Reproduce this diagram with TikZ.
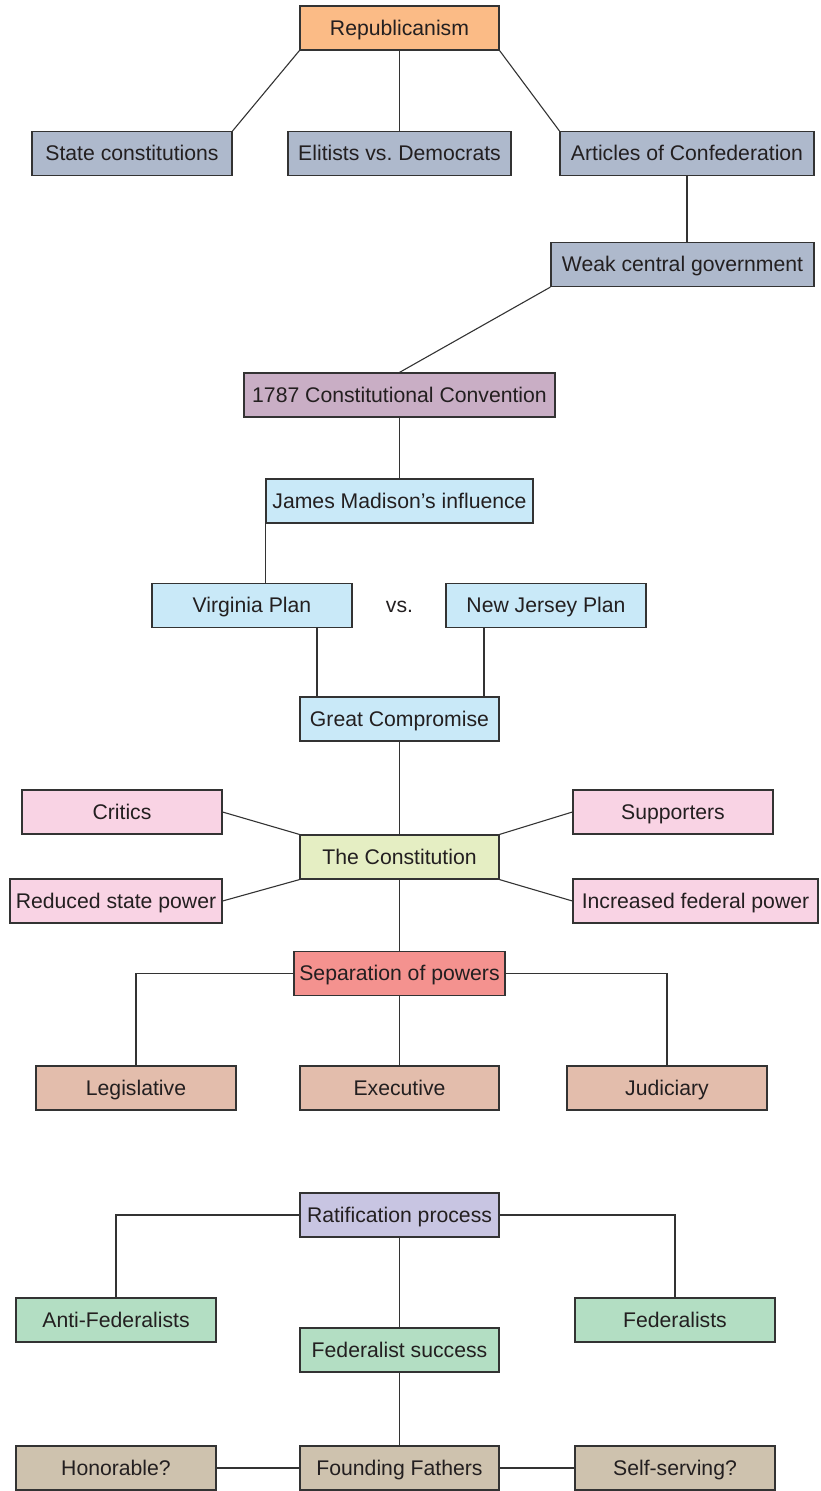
\documentclass[tikz,border=0pt]{standalone}
\usepackage{fontspec}
\setmainfont{Liberation Sans}
\frenchspacing
\definecolor{cOrange}{HTML}{FBBB86}
\definecolor{cSlate}{HTML}{AEB9CC}
\definecolor{cMauve}{HTML}{C9AEC5}
\definecolor{cSky}{HTML}{C9E9F8}
\definecolor{cPink}{HTML}{F9D3E4}
\definecolor{cLime}{HTML}{E5EEC3}
\definecolor{cSalmon}{HTML}{F4928F}
\definecolor{cTan}{HTML}{E3BDAC}
\definecolor{cLav}{HTML}{C8C5E2}
\definecolor{cMint}{HTML}{B3DEC3}
\definecolor{cBeige}{HTML}{CEC2AE}
\definecolor{ink}{HTML}{231F20}
\definecolor{edge}{HTML}{333333}
\begin{document}
\begin{tikzpicture}[x=1pt,y=-1pt,
  label text/.style={text=ink,font=\fontsize{21.2}{24}\selectfont,
    text height=15pt,text depth=1pt},
  box/.style={label text,draw=edge,line width=1.2pt,rectangle,inner sep=0pt,
    minimum height=44pt},
  link/.style={draw=edge,line width=1.1pt}]
\useasboundingbox (0,0) rectangle (820,1491);

% top: republicanism and its branches
\node[box,fill=cOrange,minimum width=199pt] (rep) at (399.5,28) {Republicanism};
\node[box,fill=cSlate,minimum width=200pt] (sc) at (132,153.5) {State constitutions};
\node[box,fill=cSlate,minimum width=223pt] (evd) at (399.5,153.5) {Elitists vs.\ Democrats};
\node[box,fill=cSlate,minimum width=254pt] (aoc) at (687,153.5) {Articles of Confederation};
\node[box,fill=cSlate,minimum width=263pt] (wcg) at (682.5,264.5) {Weak central government};

% convention and the plans
\node[box,fill=cMauve,minimum width=311pt] (conv) at (399.5,395) {1787 Constitutional Convention};
\node[box,fill=cSky,minimum width=267pt] (jmi) at (399.5,501) {James Madison’s influence};
\node[box,fill=cSky,minimum width=200pt] (vp) at (252,605.5) {Virginia Plan};
\node[label text] (vs) at (399.5,605.5) {vs.};
\node[box,fill=cSky,minimum width=200pt] (nj) at (546,605.5) {New Jersey Plan};
\node[box,fill=cSky,minimum width=199pt] (gc) at (399.5,719) {Great Compromise};

% the constitution
\node[box,fill=cPink,minimum width=200pt] (crit) at (122,812) {Critics};
\node[box,fill=cPink,minimum width=200pt] (sup) at (673,812) {Supporters};
\node[box,fill=cLime,minimum width=199pt] (con) at (399.5,857) {The Constitution};
\node[box,fill=cPink,minimum width=212pt] (rsp) at (116,901) {Reduced state power};
\node[box,fill=cPink,minimum width=245pt] (ifp) at (695.5,901) {Increased federal power};

% separation of powers
\node[box,fill=cSalmon,minimum width=211pt] (sep) at (399.5,973.5) {Separation of powers};
\node[box,fill=cTan,minimum width=200pt] (leg) at (136,1088) {Legislative};
\node[box,fill=cTan,minimum width=199pt] (exe) at (399.5,1088) {Executive};
\node[box,fill=cTan,minimum width=200pt] (jud) at (667,1088) {Judiciary};

% ratification
\node[box,fill=cLav,minimum width=199pt] (rat) at (399.5,1215) {Ratification process};
\node[box,fill=cMint,minimum width=200pt] (anti) at (116,1320) {Anti-Federalists};
\node[box,fill=cMint,minimum width=200pt] (fed) at (675,1320) {Federalists};
\node[box,fill=cMint,minimum width=199pt] (fs) at (399.5,1350) {Federalist success};
\node[box,fill=cBeige,minimum width=200pt] (hon) at (116,1468) {Honorable?};
\node[box,fill=cBeige,minimum width=199pt] (ff) at (399.5,1468) {Founding Fathers};
\node[box,fill=cBeige,minimum width=200pt] (ss) at (675,1468) {Self-serving?};

% connectors
\draw[link] (rep.south west) -- (sc.north east);
\draw[link] (rep.south) -- (evd.north);
\draw[link] (rep.south east) -- (aoc.north west);
\draw[link] (aoc.south) -- (aoc.south |- wcg.north);
\draw[link] (wcg.south west) -- (conv.north);
\draw[link] (conv.south) -- (jmi.north);
\draw[link] (jmi.south west) -- (jmi.south west |- vp.north);
\draw[link] ([xshift=65pt]vp.south) -- ([xshift=65pt]vp.south |- gc.north);
\draw[link] ([xshift=-62pt]nj.south) -- ([xshift=-62pt]nj.south |- gc.north);
\draw[link] (gc.south) -- (con.north);
\draw[link] (crit.east) -- (con.north west);
\draw[link] (sup.west) -- (con.north east);
\draw[link] (rsp.east) -- (con.south west);
\draw[link] (ifp.west) -- (con.south east);
\draw[link] (con.south) -- (sep.north);
\draw[link] (sep.west) -| (leg.north);
\draw[link] (sep.south) -- (exe.north);
\draw[link] (sep.east) -| (jud.north);
\draw[link] (rat.west) -| (anti.north);
\draw[link] (rat.east) -| (fed.north);
\draw[link] (rat.south) -- (fs.north);
\draw[link] (fs.south) -- (ff.north);
\draw[link] (hon.east) -- (ff.west);
\draw[link] (ff.east) -- (ss.west);
\end{tikzpicture}
\end{document}
